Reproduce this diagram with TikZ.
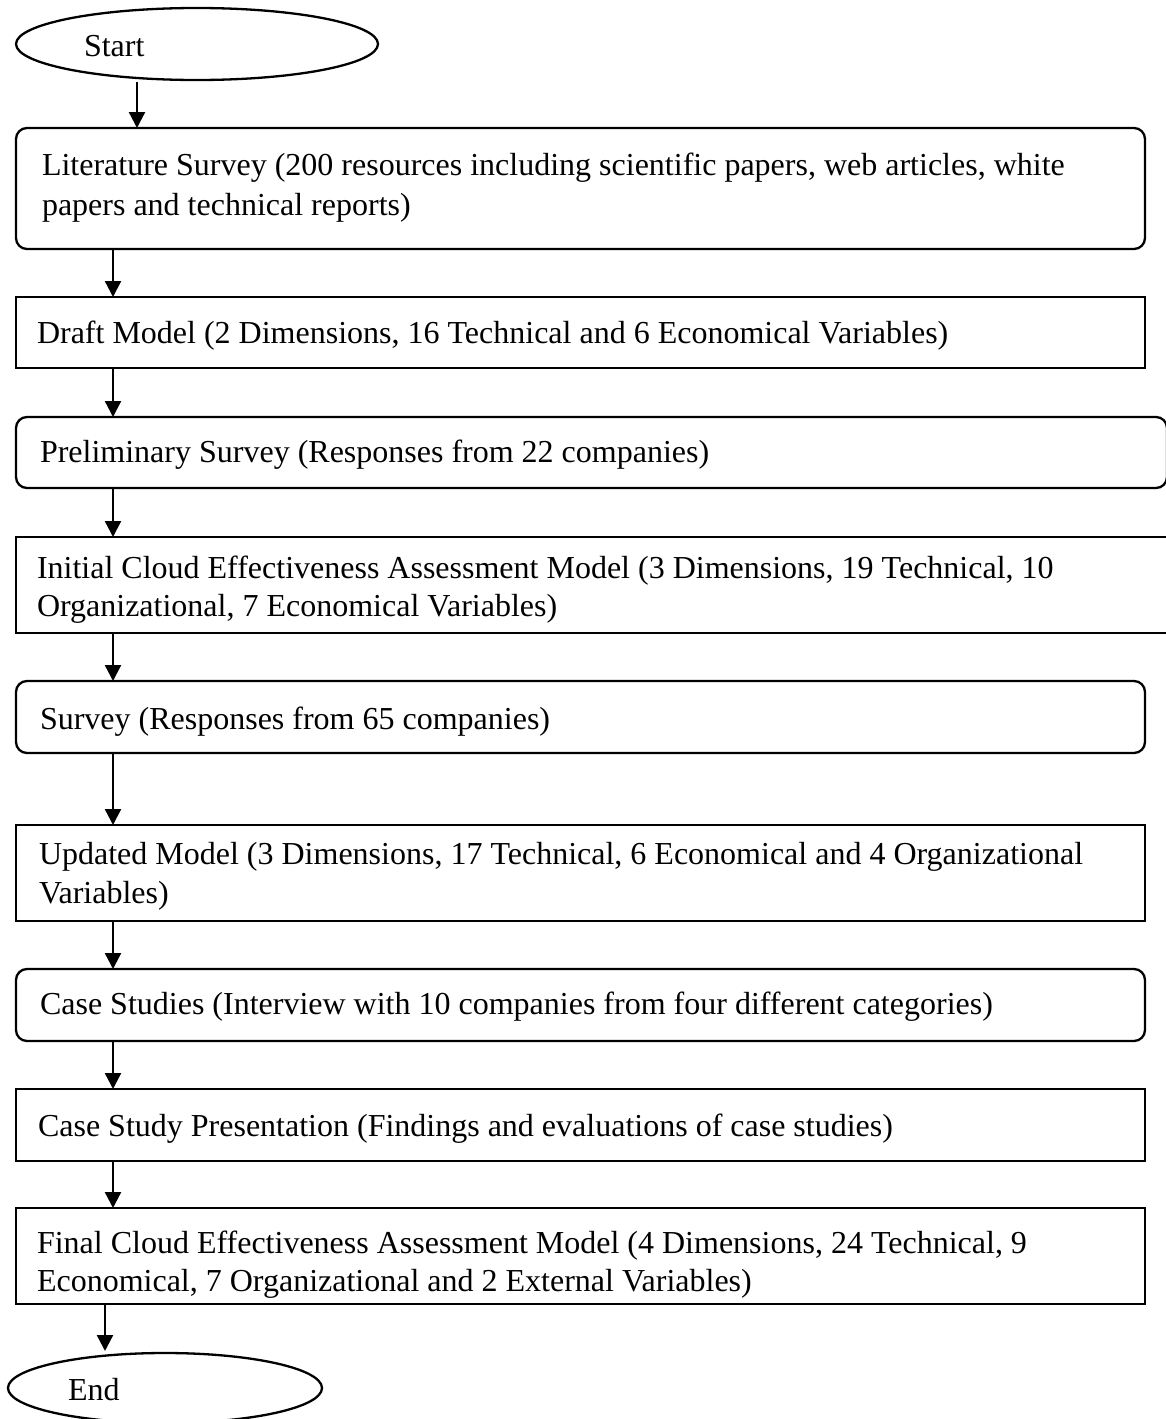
\documentclass[tikz,border=0pt]{standalone}
\usepackage{fontspec}
\setmainfont{Liberation Serif}
\usetikzlibrary{arrows.meta,shapes.geometric}
\begin{document}
\begin{tikzpicture}[x=1pt,y=-1pt,
  every node/.style={inner sep=0pt, outer sep=0pt},
  txt/.style={anchor=base west, font=\fontsize{32}{38.5}\selectfont},
  rbox/.style={draw, line width=2.3pt, rounded corners=11pt},
  sbox/.style={draw, line width=2.3pt},
  oval/.style={draw, line width=2.3pt, ellipse},
  arr/.style={line width=2.3pt, -{Triangle[width=16pt,length=16pt]}}]
\useasboundingbox (0,0) rectangle (1165,1419);
% boxes
\node[oval, minimum width=362pt, minimum height=72pt] (start) at (197,44) {};
\node[rbox, minimum width=1129pt, minimum height=121pt, anchor=north west] (lit) at (16,128) {};
\node[sbox, minimum width=1129pt, minimum height=71pt, anchor=north west] (draft) at (16,297) {};
\node[rbox, minimum width=1151pt, minimum height=71pt, anchor=north west] (prelim) at (16,417) {};
\node[sbox, minimum width=1165pt, minimum height=96pt, anchor=north west] (init) at (16,537) {};
\node[rbox, minimum width=1129pt, minimum height=72pt, anchor=north west] (survey) at (16,681) {};
\node[sbox, minimum width=1129pt, minimum height=96pt, anchor=north west] (upd) at (16,825) {};
\node[rbox, minimum width=1129pt, minimum height=72pt, anchor=north west] (case) at (16,969) {};
\node[sbox, minimum width=1129pt, minimum height=72pt, anchor=north west] (csp) at (16,1089) {};
\node[sbox, minimum width=1129pt, minimum height=96pt, anchor=north west] (final) at (16,1208) {};
\node[oval, minimum width=314pt, minimum height=70pt] (end) at (165,1388) {};
% texts
\node[txt] (tstart) at (84,56) {Start};
\node[txt] (tlit1) at (42,175) {Literature Survey (200 resources including scientific papers, web articles, white};
\node[txt] (tlit2) at (42,215) {papers and technical reports)};
\node[txt] (tdraft) at (37,343) {Draft Model (2 Dimensions, 16 Technical and 6 Economical Variables)};
\node[txt] (tprelim) at (40,462) {Preliminary Survey (Responses from 22 companies)};
\node[txt] (tinit1) at (37,578) {Initial Cloud Effectiveness Assessment Model (3 Dimensions, 19 Technical, 10};
\node[txt] (tinit2) at (37,616) {Organizational, 7 Economical Variables)};
\node[txt] (tsurvey) at (40,729) {Survey (Responses from 65 companies)};
\node[txt] (tupd1) at (39,864) {Updated Model (3 Dimensions, 17 Technical, 6 Economical and 4 Organizational};
\node[txt] (tupd2) at (39,903) {Variables)};
\node[txt] (tcase) at (40,1014) {Case Studies (Interview with 10 companies from four different categories)};
\node[txt] (tcsp) at (38,1136) {Case Study Presentation (Findings and evaluations of case studies)};
\node[txt] (tfin1) at (37,1253) {Final Cloud Effectiveness Assessment Model (4 Dimensions, 24 Technical, 9};
\node[txt] (tfin2) at (37,1291) {Economical, 7 Organizational and 2 External Variables)};
\node[txt] (tend) at (68,1400) {End};
% connectors
\coordinate (sx) at (137,0);
\coordinate (ax) at (113,0);
\coordinate (ex) at (105,0);
\draw[arr] ([yshift=-2pt]start.south -| sx) -- (lit.north -| sx);
\draw[arr] (lit.south -| ax) -- (draft.north -| ax);
\draw[arr] (draft.south -| ax) -- (prelim.north -| ax);
\draw[arr] (prelim.south -| ax) -- (init.north -| ax);
\draw[arr] (init.south -| ax) -- (survey.north -| ax);
\draw[arr] (survey.south -| ax) -- (upd.north -| ax);
\draw[arr] (upd.south -| ax) -- (case.north -| ax);
\draw[arr] (case.south -| ax) -- (csp.north -| ax);
\draw[arr] (csp.south -| ax) -- (final.north -| ax);
\draw[arr] (final.south -| ex) -- ([yshift=2pt]end.north -| ex);
\end{tikzpicture}
\end{document}
